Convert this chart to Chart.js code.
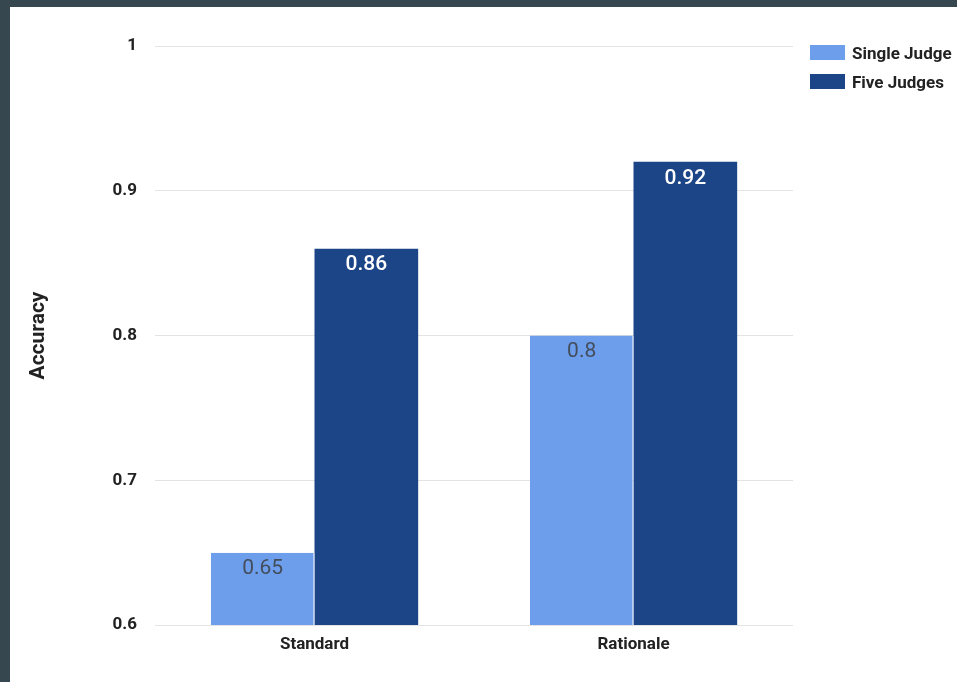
<!DOCTYPE html>
<html>
<head>
<meta charset="utf-8">
<script src="https://cdn.jsdelivr.net/npm/chart.js@4/dist/chart.umd.min.js"></script>
<style>
  html, body { margin: 0; padding: 0; background: #37474f; }
  #wrap { position: absolute; left: 10px; top: 7px; width: 947px; height: 675px; background: #fff; }
  #legend { position: absolute; left: 800px; top: 38px; font-family: Roboto, sans-serif; font-weight: bold; font-size: 17px; color: #222; }
  .item { display: flex; align-items: center; height: 15px; margin-bottom: 14px; white-space: nowrap; }
  .swatch { width: 35px; height: 15px; margin-right: 7px; flex: none; }
</style>
</head>
<body>
<div id="wrap">
  <canvas id="chart" width="947" height="675"></canvas>
  <div id="legend"></div>
</div>
<script>
// ---- data ----
const categories = ['Standard', 'Rationale'];
const singleJudge = [0.65, 0.80];
const fiveJudges = [0.86, 0.92];
const yTicks = [0.6, 0.7, 0.8, 0.9, 1];

const COLORS = {
  single: '#6d9eeb',
  five: '#1c4587',
  singleLabel: '#434d5c',
  fiveLabel: '#ffffff'
};

// draws the value inside the top of each bar
const barLabels = {
  id: 'barLabels',
  afterDatasetsDraw(chart) {
    const ctx = chart.ctx;
    ctx.save();
    ctx.textAlign = 'center';
    ctx.textBaseline = 'top';
    chart.data.datasets.forEach((ds, i) => {
      ctx.font = `${ds.labelWeight} 21px Roboto, sans-serif`;
      ctx.fillStyle = ds.labelColor;
      chart.getDatasetMeta(i).data.forEach((bar, j) => {
        ctx.fillText(String(ds.data[j]), bar.x, bar.y + 6);
      });
    });
    ctx.restore();
  }
};

const datasets = [
  {
    label: 'Single Judge',
    data: singleJudge,
    backgroundColor: COLORS.single,
    borderColor: '#ffffff',
    borderWidth: { top: 0, left: 0, bottom: 0, right: 1 },
    labelColor: COLORS.singleLabel,
    labelWeight: 'normal'
  },
  {
    label: 'Five Judges',
    data: fiveJudges,
    backgroundColor: COLORS.five,
    borderWidth: 0,
    labelColor: COLORS.fiveLabel,
    labelWeight: '500'
  }
];

new Chart(document.getElementById('chart'), {
  type: 'bar',
  data: { labels: categories, datasets },
  options: {
    responsive: false,
    animation: false,
    layout: { padding: { left: 0, right: 164, top: 39, bottom: 0 } },
    categoryPercentage: 0.65,
    barPercentage: 1,
    scales: {
      x: {
        grid: { display: false, drawTicks: false },
        border: { display: false },
        ticks: {
          color: '#222',
          padding: 10,
          font: { family: 'Roboto', size: 17, weight: 'bold' }
        },
        afterFit(scale) { scale.height = 57; }
      },
      y: {
        min: 0.6,
        max: 1,
        afterBuildTicks(scale) { scale.ticks = yTicks.map(v => ({ value: v })); },
        grid: { color: '#e3e3e3', drawTicks: false },
        border: { display: false },
        ticks: {
          color: '#222',
          padding: 18,
          font: { family: 'Roboto', size: 17, weight: 'bold' },
          callback: v => String(Math.round(v * 10) / 10)
        },
        title: {
          display: true,
          text: 'Accuracy',
          color: '#222',
          padding: { top: 16, bottom: 0 },
          font: { family: 'Roboto', size: 21, weight: 'bold' }
        },
        afterFit(scale) { scale.width = 145; }
      }
    },
    plugins: {
      legend: { display: false },
      tooltip: { enabled: false }
    }
  },
  plugins: [barLabels]
});

// html legend from the datasets
const legendEl = document.getElementById('legend');
datasets.forEach(ds => {
  const row = document.createElement('div');
  row.className = 'item';
  row.innerHTML = `<span class="swatch" style="background:${ds.backgroundColor}"></span>${ds.label}`;
  legendEl.appendChild(row);
});
</script>
</body>
</html>
